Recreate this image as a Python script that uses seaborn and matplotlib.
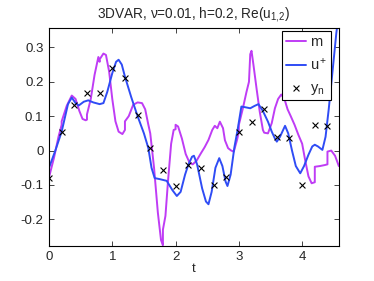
import numpy as np
import pandas as pd
import seaborn as sns
import matplotlib
matplotlib.use("Agg")
import matplotlib.pyplot as plt

# Beobachtungszeiten und Beobachtungen y_n
t_obs = [0.0, 0.2, 0.4, 0.6, 0.8, 1.0, 1.2, 1.4, 1.6, 1.8, 2.0, 2.2,
         2.4, 2.6, 2.8, 3.0, 3.2, 3.4, 3.6, 3.8, 4.0, 4.2, 4.4]
y_obs = [-0.080, 0.053, 0.132, 0.166, 0.166, 0.240, 0.211, 0.102, 0.007,
         -0.057, -0.103, -0.042, -0.051, -0.100, -0.078, 0.055, 0.082,
         0.121, 0.040, 0.036, -0.100, 0.075, 0.070]

# Wahrer Zustand u+
t_u = [0.00, 0.10, 0.20, 0.30, 0.36, 0.42, 0.47, 0.55, 0.62, 0.70, 0.80,
       0.86, 0.92, 1.00, 1.06, 1.10, 1.15, 1.20, 1.30, 1.40, 1.50, 1.57,
       1.62, 1.67, 1.75, 1.86, 1.95, 2.02, 2.08, 2.15, 2.20, 2.26, 2.29,
       2.34, 2.42, 2.48, 2.52, 2.57, 2.63, 2.69, 2.74, 2.79, 2.82, 2.87,
       2.93, 2.98, 3.04, 3.10, 3.18, 3.25, 3.31, 3.38, 3.46, 3.52, 3.57,
       3.60, 3.65, 3.73, 3.78, 3.84, 3.90, 3.97, 4.03, 4.10, 4.16, 4.20,
       4.25, 4.32, 4.37, 4.42, 4.48, 4.54, 4.58]
u_val = [-0.050, 0.000, 0.055, 0.135, 0.154, 0.138, 0.131, 0.142, 0.146,
         0.140, 0.135, 0.138, 0.170, 0.225, 0.258, 0.264, 0.250, 0.215,
         0.155, 0.100, 0.050, 0.007, -0.050, -0.080, -0.083, -0.088,
         -0.115, -0.132, -0.120, -0.070, -0.042, -0.018, -0.015, -0.040,
         -0.110, -0.148, -0.156, -0.120, -0.050, -0.022, -0.045, -0.090,
         -0.103, -0.070, 0.010, 0.060, 0.128, 0.126, 0.123, 0.130, 0.135,
         0.115, 0.084, 0.055, 0.035, 0.026, 0.040, 0.072, 0.050, 0.000,
         -0.045, -0.066, -0.045, -0.012, 0.012, 0.017, 0.012, 0.002,
         0.040, 0.120, 0.230, 0.341, 0.400]

# 3DVAR-Schaetzung m (springt an den Beobachtungszeiten)
t_m = [0.00, 0.08, 0.15, 0.20, 0.20, 0.28, 0.36, 0.42, 0.48, 0.53, 0.58,
       0.60, 0.60, 0.66, 0.72, 0.78, 0.80, 0.80, 0.86, 0.90, 0.95, 1.00,
       1.05, 1.10, 1.16, 1.20, 1.20, 1.26, 1.33, 1.40, 1.47, 1.52, 1.57,
       1.60, 1.66, 1.72, 1.77, 1.80, 1.80, 1.84, 1.88, 1.93, 1.97, 2.00,
       2.00, 2.04, 2.10, 2.16, 2.22, 2.27, 2.33, 2.40, 2.46, 2.52, 2.58,
       2.62, 2.66, 2.70, 2.75, 2.78, 2.83, 2.88, 2.92, 2.97, 3.00, 3.00,
       3.06, 3.12, 3.16, 3.18, 3.20, 3.23, 3.28, 3.33, 3.38, 3.40, 3.46,
       3.52, 3.57, 3.62, 3.67, 3.72, 3.77, 3.82, 3.88, 3.94, 4.00, 4.05,
       4.10, 4.15, 4.20, 4.20, 4.28, 4.36, 4.40, 4.40, 4.46, 4.52, 4.58]
m_val = [-0.078, -0.020, 0.040, 0.075, 0.085, 0.130, 0.160, 0.150, 0.115,
         0.092, 0.088, 0.090, 0.105, 0.150, 0.220, 0.272, 0.258, 0.265,
         0.282, 0.278, 0.230, 0.150, 0.085, 0.055, 0.048, 0.060, 0.085,
         0.100, 0.133, 0.140, 0.138, 0.120, 0.075, 0.050, -0.050, -0.180,
         -0.260, -0.275, -0.230, -0.190, -0.090, 0.020, 0.060, 0.062,
         0.075, 0.070, 0.035, -0.010, -0.035, -0.040, -0.030, -0.008,
         0.010, 0.031, 0.060, 0.072, 0.065, 0.084, 0.065, 0.030, 0.007,
         0.000, -0.003, 0.030, 0.055, 0.075, 0.120, 0.170, 0.200, 0.280,
         0.290, 0.250, 0.180, 0.113, 0.060, 0.052, 0.050, 0.080, 0.123,
         0.150, 0.163, 0.150, 0.120, 0.100, 0.075, 0.046, 0.020, -0.030,
         -0.075, -0.095, -0.092, -0.047, -0.045, -0.042, -0.040, -0.003,
         0.000, -0.015, -0.045]

sns.set_style("ticks")
plt.rcParams["font.family"] = ["Liberation Sans", "DejaVu Sans"]
plt.rcParams["mathtext.fontset"] = "custom"
plt.rcParams["mathtext.rm"] = "Liberation Sans"
plt.rcParams["mathtext.it"] = "Liberation Sans:italic"
plt.rcParams["mathtext.default"] = "regular"

m_df = pd.DataFrame({"t": t_m, "wert": m_val})
u_df = pd.DataFrame({"t": t_u, "wert": u_val})
obs_df = pd.DataFrame({"t": t_obs, "wert": y_obs})

fig = plt.figure(figsize=(3.74, 2.81), dpi=100)
ax = fig.add_axes([0.131, 0.125, 0.775, 0.775])

# m hat doppelte Zeitpunkte (Spruenge), daher sort=False
sns.lineplot(data=m_df, x="t", y="wert", sort=False, estimator=None,
             color="#bf3cf5", lw=1.4, label="m", ax=ax)
sns.lineplot(data=u_df, x="t", y="wert", sort=False, estimator=None,
             color="#2f4cf5", lw=1.4, label="u$^+$", ax=ax)
sns.scatterplot(data=obs_df, x="t", y="wert", marker="x", color="black",
                s=18, linewidth=0.8, label="y$_n$", ax=ax, zorder=5)

ax.set_xlim(0, 4.58)
ax.set_ylim(-0.277, 0.356)
ax.set_xticks([0, 1, 2, 3, 4])
ax.set_yticks([-0.2, -0.1, 0, 0.1, 0.2, 0.3])
ax.set_yticklabels(["-0.2", "-0.1", "0", "0.1", "0.2", "0.3"])
ax.tick_params(direction="in", top=True, right=True, length=3.5,
               width=0.6, labelsize=9.5, pad=4)
for sp in ax.spines.values():
    sp.set_visible(True)
    sp.set_linewidth(0.8)
    sp.set_color("black")

ax.set_xlabel("t", fontsize=9.5, labelpad=0)
ax.set_ylabel("")
ax.set_title("3DVAR, ν=0.01, h=0.2, Re(u$_{1{,}2}$)", fontsize=9.8, pad=7)

leg = ax.legend(loc="upper right", bbox_to_anchor=(0.972, 0.986),
                borderaxespad=0, fancybox=False, framealpha=1,
                edgecolor="black", fontsize=10.5, handlelength=1.4,
                handletextpad=0.25, labelspacing=0.55, borderpad=0.25)
leg.get_frame().set_linewidth(0.8)

fig.savefig("out.png", dpi=100)
